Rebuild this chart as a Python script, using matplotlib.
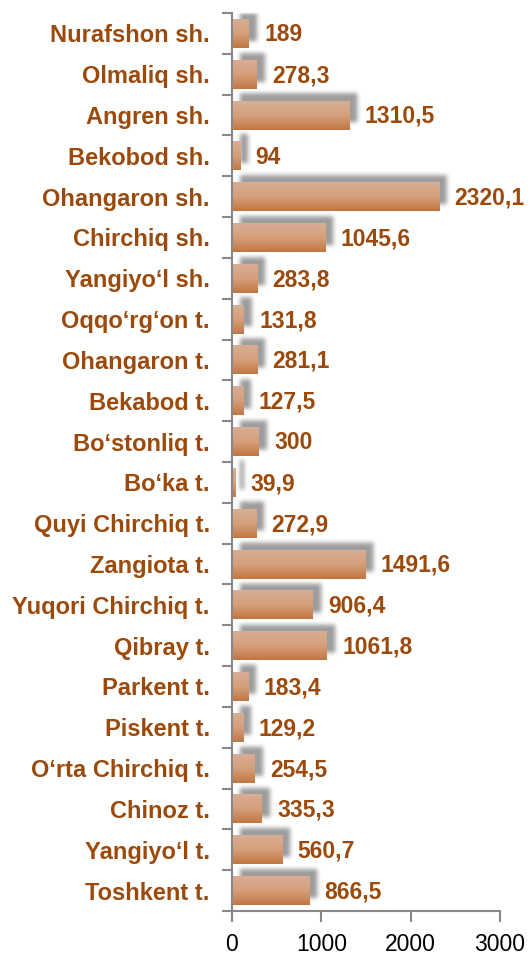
import numpy as np
import matplotlib
matplotlib.use('Agg')
import matplotlib.pyplot as plt
from matplotlib.colors import LinearSegmentedColormap

plt.rcParams['font.family'] = ['Liberation Sans', 'DejaVu Sans']

# hududlar (yuqoridan pastga)
hududlar = ['Nurafshon sh.', 'Olmaliq sh.', 'Angren sh.', 'Bekobod sh.',
            'Ohangaron sh.', 'Chirchiq sh.', 'Yangiyo‘l sh.', 'Oqqo‘rg‘on t.',
            'Ohangaron t.', 'Bekabod t.', 'Bo‘stonliq t.', 'Bo‘ka t.',
            'Quyi Chirchiq t.', 'Zangiota t.', 'Yuqori Chirchiq t.', 'Qibray t.',
            'Parkent t.', 'Piskent t.', 'O‘rta Chirchiq t.', 'Chinoz t.',
            'Yangiyo‘l t.', 'Toshkent t.']
qiymat = [189, 278.3, 1310.5, 94, 2320.1, 1045.6, 283.8, 131.8,
          281.1, 127.5, 300, 39.9, 272.9, 1491.6, 906.4, 1061.8,
          183.4, 129.2, 254.5, 335.3, 560.7, 866.5]
xticks = [0, 1000, 2000, 3000]

brown = '#9C4A0C'
n = len(hududlar)
pos = np.arange(n)[::-1]
h = 0.71
xmax = 3000

fig = plt.figure(figsize=(5.31, 9.55), dpi=100)
ax = fig.add_axes([0.4369, 0.0461, 0.5047, 0.9403])

# soya: piksel to'rida to'rtburchaklar + xiralashtirish
W = int(0.5047 * 531)
H = int(0.9403 * 955)
px_x = xmax / W
px_y = n / H
dx, dy = 8 * px_x, 7 * px_y
xs = (np.arange(W) + 0.5) * px_x
ys = (n - 0.5) - (np.arange(H) + 0.5) * px_y
mask = np.zeros((H, W))
for p, v in zip(pos, qiymat):
    rows = (ys >= p - h / 2 + dy) & (ys <= p + h / 2 + dy)
    cols = (xs >= dx) & (xs <= v + dx)
    mask[np.ix_(rows, cols)] = 1.0
k = np.ones(5) / 5
for _ in range(2):
    mask = np.apply_along_axis(lambda r: np.convolve(r, k, mode='same'), 1, mask)
    mask = np.apply_along_axis(lambda c: np.convolve(c, k, mode='same'), 0, mask)
shadow = np.zeros((H, W, 4))
shadow[..., :3] = 0.55
shadow[..., 3] = mask * 0.85
ax.imshow(shadow, extent=(0, xmax, -0.5, n - 0.5), origin='upper',
          aspect='auto', zorder=1, interpolation='bilinear')

bars = ax.barh(pos, qiymat, height=h, color='none', linewidth=0, zorder=3)
cmap = LinearSegmentedColormap.from_list('bar', ['#D8AE95', '#D5A07A', '#C27643'])
grad = np.linspace(0, 1, 64).reshape(-1, 1)
for r in bars:
    x0, y0, w, hh = r.get_x(), r.get_y(), r.get_width(), r.get_height()
    ax.imshow(grad, cmap=cmap, extent=(x0, x0 + w, y0, y0 + hh), origin='upper',
              aspect='auto', zorder=2, interpolation='bilinear')

for p, v in zip(pos, qiymat):
    txt = ('%g' % v).replace('.', ',')
    ax.annotate(txt, (v, p), xytext=(11, -1), textcoords='offset points',
                va='center', ha='left', fontsize=16.5, fontweight='bold',
                color=brown)

ax.set_xlim(0, xmax)
ax.set_ylim(-0.5, n - 0.5)
ax.set_yticks(np.arange(n + 1) - 0.5)
ax.set_yticklabels([])
ax.set_yticks(pos, minor=True)
ax.set_yticklabels(hududlar, minor=True, fontsize=17, fontweight='bold', color=brown)
ax.tick_params(axis='y', which='minor', length=0, pad=16)
ax.tick_params(axis='y', which='major', length=7, width=1.5, color='#888888')
ax.set_xticks(xticks)
ax.set_xticklabels([str(t) for t in xticks], fontsize=16.5)
ax.tick_params(axis='x', length=8, width=1.5, color='#888888', pad=8)

for s in ['top', 'right']:
    ax.spines[s].set_visible(False)
for s in ['left', 'bottom']:
    ax.spines[s].set_color('#888888')
    ax.spines[s].set_linewidth(1.5)
    ax.spines[s].set_zorder(4)

fig.savefig('out.png', dpi=100)
